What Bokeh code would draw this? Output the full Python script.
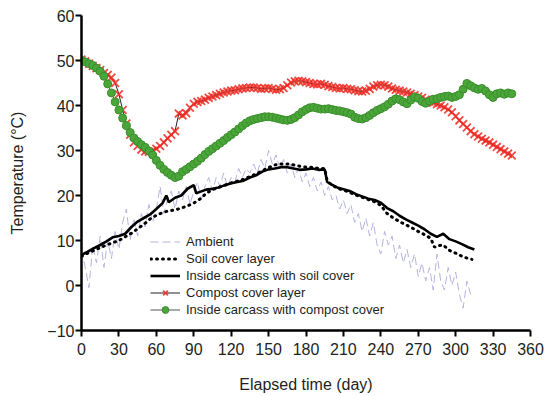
from bokeh.plotting import figure
from bokeh.models import FixedTicker, Range1d, Legend, LegendItem
from bokeh.embed import file_html
from bokeh.resources import INLINE

# ---------------- data ----------------
x_ticks = [0, 30, 60, 90, 120, 150, 180, 210, 240, 270, 300, 330, 360]
y_ticks = [-10, 0, 10, 20, 30, 40, 50, 60]

# Ambient, every 3 days from day 0
ambient = [8, 4, -0.5, 9, 5, 11, 4, 10, 6, 12, 8, 14, 17, 10, 15, 11, 16, 13, 18, 14,
           17, 22, 16, 19, 21, 17, 21, 19, 22, 18, 21, 23, 19, 22, 24, 21, 24, 22, 25, 22,
           24, 23, 26, 24, 26, 25, 27, 25, 28, 26, 30, 27, 29, 26, 28, 25, 27, 24, 26, 23,
           25, 22, 24, 21, 23, 20, 22, 19, 20, 17, 19, 16, 18, 14, 16, 12, 15, 11, 14, 9,
           7, 12, 9, 11, 6, 9, 5, 8, 4, 7, 2, 5, 1, 4, -1, 7, 1, -1, 4, 0,
           3, -2, -5, 1, -2]
ambient_days = list(range(0, 3 * len(ambient), 3))

soil_layer_days = [0, 5, 10, 15, 20, 25, 30, 35, 40, 45, 50, 55, 60, 65, 70, 75, 80, 85, 90, 95,
                   100, 105, 110, 115, 120, 125, 130, 135, 140, 145, 150, 155, 160, 165, 170, 175,
                   180, 185, 190, 195, 197, 200, 205, 210, 215, 220, 225, 230, 235, 240, 245, 250,
                   255, 260, 265, 270, 275, 280, 283, 285, 290, 295, 300, 305, 310, 313]
soil_layer = [6.5, 7.2, 7.8, 8.4, 9, 9.5, 10, 10.8, 11.6, 12.6, 13.6, 14.8, 15.6, 16.2, 16.6, 16.8,
              17.2, 17.7, 18.3, 19.2, 20.5, 21.3, 21.8, 22.3, 22.8, 23.2, 23.6, 24.2, 24.8, 25.5,
              26.2, 26.8, 27, 27, 26.8, 26.5, 26.3, 26.3, 26, 26, 23.2, 22.5, 21.6, 21.2, 20.7,
              20.1, 19.6, 19.1, 18.6, 17.8, 16, 15, 14.2, 13.5, 12.8, 12, 11.3, 10.5, 8.5, 8.8,
              9, 7.8, 7.2, 6.5, 6, 5.8]

carcass_soil_days = [0, 5, 10, 15, 20, 25, 30, 35, 40, 45, 50, 55, 60, 65, 68, 70, 75, 80, 85, 90,
                     92, 95, 100, 105, 110, 115, 120, 125, 130, 135, 140, 145, 150, 155, 160, 165,
                     170, 175, 180, 185, 190, 195, 197, 200, 205, 210, 215, 220, 225, 230, 235,
                     240, 245, 250, 255, 260, 265, 270, 275, 280, 285, 290, 295, 300, 305, 310, 315]
carcass_soil = [6.8, 7.5, 8.3, 9, 9.8, 10.7, 11, 11.5, 13, 14.2, 15, 15.8, 17, 18.3, 20, 18.5,
                19.5, 20, 21.5, 22.3, 20.5, 20.8, 21.3, 21.5, 21.8, 22.3, 22.7, 23, 23.3, 24,
                24.5, 25.3, 25.8, 26, 26.3, 26.3, 26, 25.7, 25.8, 26, 25.7, 25.8, 23, 22.5, 21.8,
                21.4, 21, 20.3, 19.8, 19.3, 19, 18.4, 17.2, 16.5, 15.5, 14.7, 14, 13.3, 12.5,
                11.5, 10.8, 11.5, 10.3, 9.8, 9.2, 8.5, 8]

# Compost cover layer, every 3 days from day 0
compost_layer = [50.2, 49.8, 49.3, 48.8, 48.3, 47.9, 47.2, 46.8, 46.2, 45, 42.5, 39, 36, 33.5,
                 31.8, 31, 30.2, 29.8, 29.7, 30, 30.4, 31, 31.8, 32.7, 33.5, 34.3, 38.2, 37.8,
                 38.3, 39.5, 40.4, 40.8, 41, 41.3, 41.7, 42, 42.3, 42.6, 42.9, 43.1, 43.3, 43.4,
                 43.6, 43.8, 43.9, 44, 44, 43.9, 43.7, 43.8, 43.9, 43.7, 43.5, 43.6, 43.9, 44.5,
                 45.1, 45.4, 45.5, 45.4, 45.2, 45, 44.8, 44.7, 44.8, 44.6, 44.3, 44.1, 43.9, 43.8,
                 43.9, 43.7, 43.6, 43.4, 43.2, 43.1, 43.3, 43.7, 44.2, 44.5, 44.6, 44.5, 44.2,
                 43.8, 43.5, 43.3, 43.1, 42.9, 42.6, 42.3, 42, 41.7, 41.3, 40.9, 40.6, 40.3, 40,
                 39.6, 39.1, 38.5, 37.6, 36.7, 35.9, 35.1, 34.3, 33.6, 33.1, 32.6, 32.2, 31.8,
                 31.3, 30.8, 30.3, 29.8, 29.3, 28.9]
compost_layer_days = list(range(0, 3 * len(compost_layer), 3))

# Inside carcass with compost cover, every 3 days from day 0
carcass_compost = [50, 49.7, 49.3, 48.9, 48.3, 47.6, 46.5, 44.8, 42.8, 40.8, 39, 37.2, 35.5, 34,
                   32.8, 32, 31.3, 30.7, 29.9, 29, 27.8, 26.7, 25.8, 25.1, 24.5, 24, 24.3, 25.3,
                   25.8, 26.4, 27, 27.6, 28.3, 29.1, 29.8, 30.4, 31, 31.6, 32.2, 32.9, 33.5, 34.1,
                   34.8, 35.5, 36.1, 36.6, 36.9, 37.1, 37.3, 37.5, 37.5, 37.4, 37.2, 37, 36.8,
                   36.7, 36.9, 37.3, 37.9, 38.6, 39.1, 39.5, 39.6, 39.4, 39.2, 39.2, 39.3, 39.1,
                   38.9, 38.8, 38.6, 38.4, 38.1, 37.4, 37.1, 37, 37.3, 37.8, 38.4, 38.9, 39.3,
                   39.7, 40.3, 41, 41.5, 41.3, 40.8, 40.4, 41.2, 41.9, 41.6, 40.9, 40.5, 41, 41.4,
                   41.5, 41.8, 42, 42.1, 41.8, 42, 42.4, 43.6, 44.9, 44.4, 43.9, 43.6, 43.8, 43.2,
                   42.4, 41.8, 42.6, 42.8, 42.5, 42.8, 42.6]
carcass_compost_days = list(range(0, 3 * len(carcass_compost), 3))

labels = ["Ambient", "Soil cover layer", "Inside carcass with soil cover",
          "Compost cover layer", "Inside carcass with compost cover"]

# ---------------- figure ----------------
FONT = "Liberation Sans"
TXT = "#231f20"

p = figure(width=556, height=396, output_backend="svg", toolbar_location=None,
           x_range=Range1d(0, 360), y_range=Range1d(-10, 60),
           min_border_left=81, min_border_right=26, min_border_top=15, min_border_bottom=66)
p.outline_line_color = None
p.xgrid.visible = False
p.ygrid.visible = False
p.background_fill_color = "white"

r_amb = p.line(ambient_days, ambient, line_color="#b3b3e3", line_width=1, line_dash="8 4")
r_soil = p.line(soil_layer_days, soil_layer, line_color="black", line_width=3,
                line_dash="1 5", line_cap="round")
r_cs = p.line(carcass_soil_days, carcass_soil, line_color="black", line_width=2.6)
r_cl_line = p.line(compost_layer_days, compost_layer, line_color="#222222", line_width=1)
r_cl_pts = p.scatter(compost_layer_days, compost_layer, marker="x", size=11,
                     line_color="#ee2a22", line_width=1.8, line_alpha=0.85)
r_cc_line = p.line(carcass_compost_days, carcass_compost, line_color="#555555", line_width=1)
r_cc_pts = p.scatter(carcass_compost_days, carcass_compost, marker="circle", size=8,
                     fill_color="#4ba63a", line_color="#3a8f2c", line_width=1)

legend = Legend(items=[
    LegendItem(label=labels[0], renderers=[r_amb]),
    LegendItem(label=labels[1], renderers=[r_soil]),
    LegendItem(label=labels[2], renderers=[r_cs]),
    LegendItem(label=labels[3], renderers=[r_cl_line, r_cl_pts]),
    LegendItem(label=labels[4], renderers=[r_cc_line, r_cc_pts]),
], location=(69, 12), padding=0, margin=0, spacing=0, label_height=17, glyph_height=17,
    glyph_width=30, label_standoff=6, background_fill_alpha=0, border_line_alpha=0,
    label_text_font=FONT, label_text_font_size="13px", label_text_color=TXT)
p.add_layout(legend)

for ax in (p.xaxis[0], p.yaxis[0]):
    ax.axis_line_width = 2.5
    ax.axis_line_color = "black"
    ax.major_tick_line_width = 2
    ax.major_tick_line_color = "black"
    ax.major_tick_in = 0
    ax.major_tick_out = 6
    ax.minor_tick_line_color = None
    ax.major_label_text_font = FONT
    ax.major_label_text_font_size = "16px"
    ax.major_label_text_color = TXT
    ax.axis_label_text_font = FONT
    ax.axis_label_text_font_size = "16px"
    ax.axis_label_text_font_style = "normal"
    ax.axis_label_text_color = TXT

p.xaxis.ticker = FixedTicker(ticks=x_ticks)
p.yaxis.ticker = FixedTicker(ticks=y_ticks)
p.yaxis.major_label_overrides = {-10: "\u221210"}
p.xaxis.major_label_standoff = 6
p.yaxis.major_label_standoff = 1
p.xaxis.axis_label = "Elapsed time (day)"
p.yaxis.axis_label = "Temperature (\u00b0C)"
p.xaxis.axis_label_standoff = 18
p.yaxis.axis_label_standoff = 18

open("out.html", "w").write(file_html(p, INLINE))
